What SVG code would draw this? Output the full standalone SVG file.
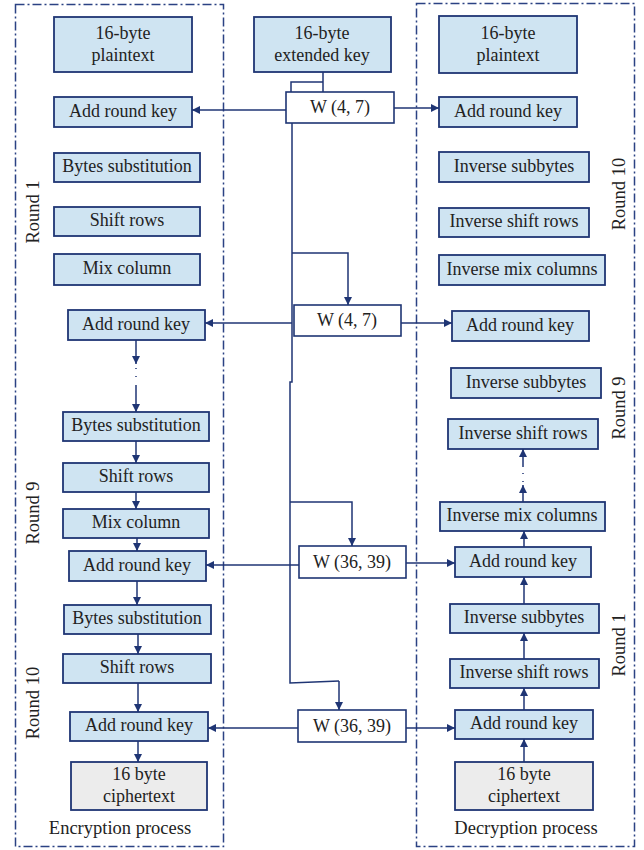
<svg xmlns="http://www.w3.org/2000/svg" width="644" height="850" viewBox="0 0 644 850">
  <defs>
    <marker id="ah" viewBox="0 0 10 10" refX="10" refY="5" markerWidth="8" markerHeight="8" orient="auto" markerUnits="userSpaceOnUse">
      <path d="M0,0 L10,5 L0,10 z" fill="#1f3574"/>
    </marker>
    <style>
      .frame { fill: none; stroke: #2b4283; stroke-width: 1.5; stroke-dasharray: 9 3 2 3; }
      .step { fill: #cfe4f2; stroke: #1f3574; stroke-width: 1.8; }
      .io { fill: #ececec; stroke: #1f3574; stroke-width: 1.8; }
      .key { fill: #ffffff; stroke: #1f3574; stroke-width: 1.6; }
      .lbl { font-family: "Liberation Serif", "Times New Roman", serif; font-size: 18px; fill: #222; text-anchor: middle; }
      .cap { font-family: "Liberation Serif", "Times New Roman", serif; font-size: 18.5px; fill: #222; text-anchor: middle; }
      .wire { fill: none; stroke: #1f3574; stroke-width: 1.5; }
      .dots { fill: none; stroke: #1f3574; stroke-width: 1.5; stroke-dasharray: 1 7; }
    </style>
  </defs>

  <!-- process frames -->
  <g id="frames">
    <rect class="frame" x="15.5" y="4.5" width="208" height="842"/>
    <rect class="frame" x="416.5" y="3.5" width="218" height="843"/>
  </g>

  <!-- encryption column -->
  <g id="enc-plaintext"><rect class="step" x="54" y="17" width="138" height="55"/><text class="lbl" x="123" y="39">16-byte</text><text class="lbl" x="123" y="61">plaintext</text></g>
  <g id="enc-ark0"><rect class="step" x="54" y="97" width="138" height="30"/><text class="lbl" x="123" y="117">Add round key</text></g>
  <g id="enc-sub1"><rect class="step" x="54" y="153" width="146" height="29"/><text class="lbl" x="127" y="172">Bytes substitution</text></g>
  <g id="enc-shift1"><rect class="step" x="54" y="207" width="146" height="29"/><text class="lbl" x="127" y="226">Shift rows</text></g>
  <g id="enc-mix1"><rect class="step" x="54" y="254" width="146" height="31"/><text class="lbl" x="127" y="274">Mix column</text></g>
  <g id="enc-ark1"><rect class="step" x="68" y="310" width="137" height="30"/><text class="lbl" x="136" y="330">Add round key</text></g>
  <g id="enc-sub9"><rect class="step" x="63" y="412" width="146" height="29"/><text class="lbl" x="136" y="431">Bytes substitution</text></g>
  <g id="enc-shift9"><rect class="step" x="63" y="463" width="146" height="29"/><text class="lbl" x="136" y="482">Shift rows</text></g>
  <g id="enc-mix9"><rect class="step" x="63" y="509" width="146" height="29"/><text class="lbl" x="136" y="528">Mix column</text></g>
  <g id="enc-ark9"><rect class="step" x="69" y="551" width="137" height="30"/><text class="lbl" x="137" y="571">Add round key</text></g>
  <g id="enc-sub10"><rect class="step" x="64" y="605" width="147" height="29"/><text class="lbl" x="137" y="624">Bytes substitution</text></g>
  <g id="enc-shift10"><rect class="step" x="63" y="654" width="148" height="29"/><text class="lbl" x="137" y="673">Shift rows</text></g>
  <g id="enc-ark10"><rect class="step" x="70" y="712" width="138" height="29"/><text class="lbl" x="139" y="731">Add round key</text></g>
  <g id="enc-cipher"><rect class="io" x="71" y="762" width="136" height="48"/><text class="lbl" x="139" y="780">16 byte</text><text class="lbl" x="139" y="802">ciphertext</text></g>
  <g id="enc-labels">
    <text class="cap" transform="translate(39,212) rotate(-90)">Round 1</text>
    <text class="cap" transform="translate(39,513) rotate(-90)">Round 9</text>
    <text class="cap" transform="translate(39,703) rotate(-90)">Round 10</text>
    <text class="cap" x="120" y="834">Encryption process</text>
  </g>

  <!-- key schedule column -->
  <g id="ext-key"><rect class="step" x="254" y="17" width="137" height="55"/><text class="lbl" x="322" y="39">16-byte</text><text class="lbl" x="322" y="61">extended key</text></g>
  <g id="w-4-7-a"><rect class="key" x="286" y="92" width="108" height="31"/><text class="lbl" x="340" y="113">W (4, 7)</text></g>
  <g id="w-4-7-b"><rect class="key" x="294" y="305" width="107" height="31"/><text class="lbl" x="347" y="326">W (4, 7)</text></g>
  <g id="w-36-39-a"><rect class="key" x="299" y="546" width="107" height="32"/><text class="lbl" x="352" y="568">W (36, 39)</text></g>
  <g id="w-36-39-b"><rect class="key" x="298" y="710" width="108" height="32"/><text class="lbl" x="352" y="732">W (36, 39)</text></g>

  <!-- decryption column -->
  <g id="dec-plaintext"><rect class="step" x="439" y="16" width="138" height="57"/><text class="lbl" x="508" y="39">16-byte</text><text class="lbl" x="508" y="61">plaintext</text></g>
  <g id="dec-ark10"><rect class="step" x="439" y="97" width="138" height="30"/><text class="lbl" x="508" y="117">Add round key</text></g>
  <g id="dec-isub10"><rect class="step" x="439" y="152" width="150" height="30"/><text class="lbl" x="514" y="172">Inverse subbytes</text></g>
  <g id="dec-ishift10"><rect class="step" x="439" y="208" width="150" height="29"/><text class="lbl" x="514" y="227">Inverse shift rows</text></g>
  <g id="dec-imix10"><rect class="step" x="439" y="255" width="166" height="30"/><text class="lbl" x="522" y="275">Inverse mix columns</text></g>
  <g id="dec-ark9"><rect class="step" x="452" y="311" width="137" height="30"/><text class="lbl" x="520" y="331">Add round key</text></g>
  <g id="dec-isub9"><rect class="step" x="451" y="368" width="150" height="30"/><text class="lbl" x="526" y="388">Inverse subbytes</text></g>
  <g id="dec-ishift9"><rect class="step" x="448" y="419" width="150" height="30"/><text class="lbl" x="523" y="439">Inverse shift rows</text></g>
  <g id="dec-imix1"><rect class="step" x="440" y="502" width="165" height="29"/><text class="lbl" x="522" y="521">Inverse mix columns</text></g>
  <g id="dec-ark1"><rect class="step" x="455" y="547" width="136" height="30"/><text class="lbl" x="523" y="567">Add round key</text></g>
  <g id="dec-isub1"><rect class="step" x="450" y="604" width="149" height="29"/><text class="lbl" x="524" y="623">Inverse subbytes</text></g>
  <g id="dec-ishift1"><rect class="step" x="450" y="659" width="149" height="29"/><text class="lbl" x="524" y="678">Inverse shift rows</text></g>
  <g id="dec-ark0"><rect class="step" x="455" y="710" width="138" height="29"/><text class="lbl" x="524" y="729">Add round key</text></g>
  <g id="dec-cipher"><rect class="io" x="455" y="762" width="138" height="48"/><text class="lbl" x="524" y="780">16 byte</text><text class="lbl" x="524" y="802">ciphertext</text></g>
  <g id="dec-labels">
    <text class="cap" transform="translate(625,194) rotate(-90)">Round 10</text>
    <text class="cap" transform="translate(625,408) rotate(-90)">Round 9</text>
    <text class="cap" transform="translate(625,645) rotate(-90)">Round 1</text>
    <text class="cap" x="526" y="834">Decryption process</text>
  </g>

  <!-- connectors -->
  <g id="connectors">
    <!-- key schedule trunk -->
    <path class="wire" d="M323,72 V92 M323,82 H291 V92"/>
    <path class="wire" d="M292,123 V382 H290 V683 L339,681"/>
    <path class="wire" marker-end="url(#ah)" d="M339,681 V710"/>
    <path class="wire" marker-end="url(#ah)" d="M292,253 H348 V305"/>
    <path class="wire" marker-end="url(#ah)" d="M290,502 H352 V546"/>

    <!-- round keys to encryption -->
    <path class="wire" marker-end="url(#ah)" d="M286,110 H192"/>
    <path class="wire" marker-end="url(#ah)" d="M292,323 H205"/>
    <path class="wire" marker-end="url(#ah)" d="M299,565 H206"/>
    <path class="wire" marker-end="url(#ah)" d="M298,728 H208"/>

    <!-- round keys to decryption -->
    <path class="wire" marker-end="url(#ah)" d="M394,108 H439"/>
    <path class="wire" marker-end="url(#ah)" d="M401,323 H452"/>
    <path class="wire" marker-end="url(#ah)" d="M406,563 H455"/>
    <path class="wire" marker-end="url(#ah)" d="M406,728 H455"/>

    <!-- encryption flow -->
    <path class="wire" marker-end="url(#ah)" d="M136,340 V364"/>
    <path class="dots" d="M136,368 V384"/>
    <path class="wire" marker-end="url(#ah)" d="M136,385 V412"/>
    <path class="wire" marker-end="url(#ah)" d="M136,441 V463"/>
    <path class="wire" marker-end="url(#ah)" d="M136,492 V509"/>
    <path class="wire" marker-end="url(#ah)" d="M137,538 V551"/>
    <path class="wire" marker-end="url(#ah)" d="M137,581 V605"/>
    <path class="wire" marker-end="url(#ah)" d="M138,634 V654"/>
    <path class="wire" marker-end="url(#ah)" d="M138,683 V712"/>
    <path class="wire" marker-end="url(#ah)" d="M138,741 V762"/>

    <!-- decryption flow -->
    <path class="wire" marker-end="url(#ah)" d="M524,762 V739"/>
    <path class="wire" marker-end="url(#ah)" d="M524,710 V688"/>
    <path class="wire" marker-end="url(#ah)" d="M524,659 V633"/>
    <path class="wire" marker-end="url(#ah)" d="M524,604 V577"/>
    <path class="wire" marker-end="url(#ah)" d="M524,547 V531"/>
    <path class="wire" marker-end="url(#ah)" d="M523,502 V485"/>
    <path class="dots" d="M523,482 V470"/>
    <path class="wire" marker-end="url(#ah)" d="M523,467 V449"/>
  </g>
</svg>
